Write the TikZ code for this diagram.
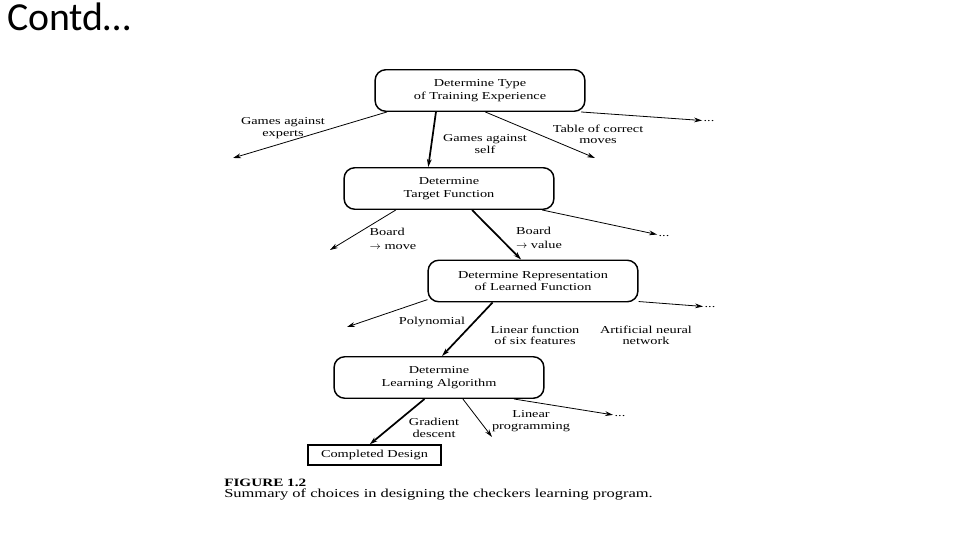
\documentclass[tikz,border=0pt]{standalone}
\usepackage{fontspec}
\setmainfont{Liberation Serif}[FakeStretch=1.35]
\newfontfamily\slidefont{Carlito}
\usetikzlibrary{arrows.meta,positioning}

\begin{document}
\begin{tikzpicture}[x=0.0265cm,y=-0.0265cm,
    >={Stealth[length=6pt,width=3.6pt]},
    decision/.style={draw,line width=1.1pt,rounded corners=8pt,minimum width=5.56cm,
        minimum height=1.1cm,align=center,font=\fontsize{8}{9.6}\selectfont},
    done/.style={draw,line width=1pt,minimum width=3.52cm,minimum height=0.53cm,
        font=\fontsize{8}{9.6}\selectfont},
    choice/.style={align=center,font=\fontsize{8}{8.5}\selectfont,inner sep=1pt},
    dots/.style={font=\fontsize{8}{8}\selectfont,inner sep=1pt},
    pick/.style={->,line width=1.3pt},
    skip/.style={->,line width=0.6pt}]
\useasboundingbox (0,0) rectangle (960,540);
\node[anchor=base west,inner sep=0pt,font=\slidefont\fontsize{30}{36}\selectfont] (title) at (7,31) {Contd…};

\node[decision] (type)   at (480,90.5) {Determine Type\\of Training Experience};
\node[decision] (target) at (449,188.5) {Determine\\Target Function};
\node[decision] (repr)   at (533,281) {Determine Representation\\of Learned Function};
\node[decision] (algo)   at (439,377.5) {Determine\\Learning Algorithm};
\node[done]     (design) at (374.5,455) {Completed Design};

\coordinate (experts) at (233,158);
\coordinate (table) at (595,158);
\coordinate (move) at (330,250);
\coordinate (poly) at (347,327);
\coordinate (lprog) at (492,437);
\node[dots] (dots1) at (709,121) {...};
\node[dots] (dots2) at (664,236) {...};
\node[dots] (dots3) at (710,307) {...};
\node[dots] (dots4) at (620,416) {...};

\node[choice] (l_experts) at (283,128) {Games against\\experts};
\node[choice] (l_self)    at (485,144) {Games against\\self};
\node[choice] (l_table)   at (598,134) {Table of correct\\moves};
\node[choice,align=left,font=\fontsize{8}{10}\selectfont] (l_move)  at (393,239) {Board\\$\rightarrow$ move};
\node[choice,align=left,font=\fontsize{8}{10}\selectfont] (l_value) at (539,238) {Board\\$\rightarrow$ value};
\node[choice] (l_poly)    at (432,322) {Polynomial};
\node[choice] (l_linear)  at (535,335) {Linear function\\of six features};
\node[choice] (l_ann)     at (646,335) {Artificial neural\\network};
\node[choice] (l_grad)    at (434,428) {Gradient\\descent};
\node[choice] (l_lprog)   at (531,421) {Linear\\programming};

\path (type.193) edge[skip] (experts)
      (type.206) edge[pick] (target.134)
      (type.284) edge[skip] (table)
      (type.348) edge[skip] (dots1)
      (target.202) edge[skip] (move)
      (target.317) edge[pick] (repr.119)
      (target.347) edge[skip] (dots2)
      (repr.190) edge[skip] (poly)
      (repr.208) edge[pick] (algo.82)
      (repr.349) edge[skip] (dots3)
      (algo.236) edge[pick] (design.114)
      (algo.318) edge[skip] (lprog)
      (algo.344) edge[skip] (dots4);

\node[anchor=west,inner sep=0pt,font=\bfseries\fontsize{8.5}{9}\selectfont] (fig) at (224,483) {FIGURE 1.2};
\node[anchor=west,inner sep=0pt,font=\fontsize{9.2}{10}\selectfont] (summary) at (224,495) {Summary of choices in designing the checkers learning program.};
\end{tikzpicture}
\end{document}
